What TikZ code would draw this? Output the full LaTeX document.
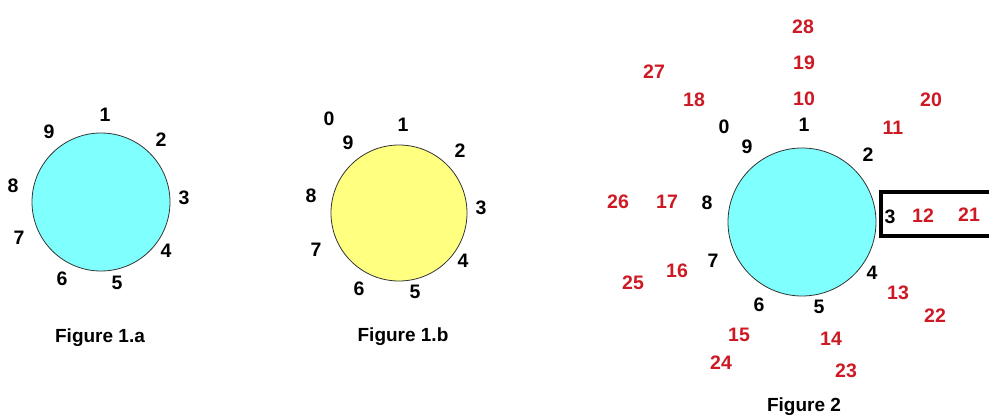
\documentclass[tikz,border=0pt]{standalone}
\usepackage{fontspec}
\setmainfont{Liberation Sans}
\usepackage{tikz}
\definecolor{discblue}{RGB}{128,255,255}
\definecolor{discyellow}{RGB}{255,255,128}
\definecolor{numred}{RGB}{205,25,35}

\begin{document}
\begin{tikzpicture}[
    x=1pt, y=-1pt,
    disc/.style={circle, draw=black!80, line width=0.8pt, inner sep=0pt},
    num/.style={font=\bfseries\fontsize{19.5}{21}\selectfont, inner sep=0pt},
    rnum/.style={num, text=numred},
    caption/.style={font=\bfseries\fontsize{19}{21}\selectfont, inner sep=0pt},
    frame/.style={draw, line width=3.3pt}
]
\useasboundingbox (0,0) rectangle (989,418);

% Figure 1.a
\node[disc, fill=discblue, minimum size=138pt] (circa) at (101,202) {};
\node[num] (a1) at (105,115) {1};
\node[num] (a2) at (161,140) {2};
\node[num] (a3) at (184,198) {3};
\node[num] (a4) at (166,251) {4};
\node[num] (a5) at (117,283) {5};
\node[num] (a6) at (62,279) {6};
\node[num] (a7) at (19,238) {7};
\node[num] (a8) at (13,186) {8};
\node[num] (a9) at (49,132) {9};
\node[caption] (capa) at (100,338) {Figure 1.a};

% Figure 1.b
\node[disc, fill=discyellow, minimum size=136pt] (circb) at (399,213) {};
\node[num] (b0) at (329,119) {0};
\node[num] (b1) at (403,125) {1};
\node[num] (b2) at (460,151) {2};
\node[num] (b3) at (481,208) {3};
\node[num] (b4) at (463,261) {4};
\node[num] (b5) at (415,292) {5};
\node[num] (b6) at (359,289) {6};
\node[num] (b7) at (316,250) {7};
\node[num] (b8) at (311,196) {8};
\node[num] (b9) at (348,143) {9};
\node[caption] (capb) at (403,337) {Figure 1.b};

% Figure 2
\node[disc, fill=discblue, minimum size=148pt] (circc) at (802,222) {};
\node[num] (c0) at (724,127) {0};
\node[num] (c1) at (804,125) {1};
\node[num] (c2) at (868,155) {2};
\node[num] (c3) at (890,217) {3};
\node[num] (c4) at (872,273) {4};
\node[num] (c5) at (819,307) {5};
\node[num] (c6) at (759,305) {6};
\node[num] (c7) at (713,261) {7};
\node[num] (c8) at (707,203) {8};
\node[num] (c9) at (747,147) {9};
\node[rnum] (c10) at (804,99) {10};
\node[rnum] (c11) at (893,128) {11};
\node[rnum] (c12) at (923,216) {12};
\node[rnum] (c13) at (898,293) {13};
\node[rnum] (c14) at (831,339) {14};
\node[rnum] (c15) at (739,335) {15};
\node[rnum] (c16) at (677,271) {16};
\node[rnum] (c17) at (667,202) {17};
\node[rnum] (c18) at (694,100) {18};
\node[rnum] (c19) at (804,63) {19};
\node[rnum] (c20) at (931,100) {20};
\node[rnum] (c21) at (969,215) {21};
\node[rnum] (c22) at (935,316) {22};
\node[rnum] (c23) at (846,371) {23};
\node[rnum] (c24) at (721,363) {24};
\node[rnum] (c25) at (633,283) {25};
\node[rnum] (c26) at (618,202) {26};
\node[rnum] (c27) at (654,72) {27};
\node[rnum] (c28) at (803,27) {28};
\node[caption] (capc) at (804,407) {Figure 2};

% open box round 3, 12, 21
\coordinate (boxtop) at (989,192);
\coordinate (boxbot) at (989,236);
\draw[frame] (boxtop) -| (c3.west -| 881,0) |- (boxbot);
\end{tikzpicture}
\end{document}
